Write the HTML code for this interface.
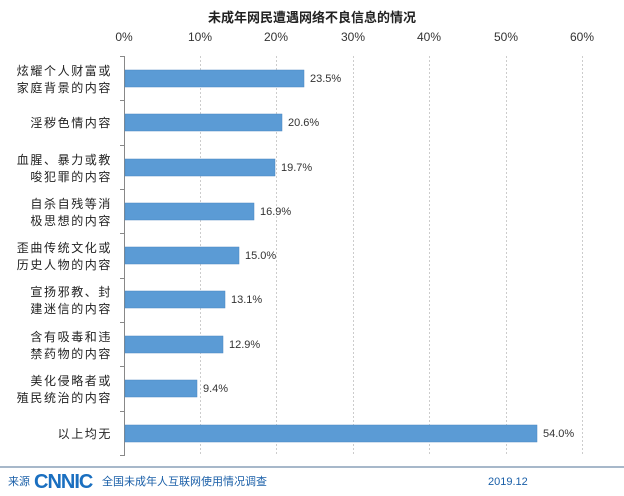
<!DOCTYPE html>
<html><head><meta charset="utf-8"><style>
body{margin:0;background:#fff;}
svg{display:block;font-family:"Liberation Sans","Noto Sans CJK SC",sans-serif;}
</style></head><body>
<svg width="624" height="496" viewBox="0 0 624 496" xmlns="http://www.w3.org/2000/svg">
<rect width="624" height="496" fill="#fff"/>
<text x="312" y="22" text-anchor="middle" font-size="13" font-weight="bold" fill="#222">未成年网民遭遇网络不良信息的情况</text>
<g font-size="12" fill="#333" text-anchor="middle">
<text x="124" y="41">0%</text><text x="200" y="41">10%</text><text x="276" y="41">20%</text><text x="353" y="41">30%</text><text x="429" y="41">40%</text><text x="506" y="41">50%</text><text x="582" y="41">60%</text>
</g>
<g stroke="#ccc" stroke-dasharray="2,2" stroke-width="1">
<line x1="200.5" y1="56" x2="200.5" y2="455"/><line x1="276.5" y1="56" x2="276.5" y2="455"/><line x1="353.5" y1="56" x2="353.5" y2="455"/><line x1="429.5" y1="56" x2="429.5" y2="455"/><line x1="506.5" y1="56" x2="506.5" y2="455"/><line x1="582.5" y1="56" x2="582.5" y2="455"/>
</g>
<g stroke="#888" stroke-width="1">
<line x1="124.5" y1="56" x2="124.5" y2="455"/>
<line x1="120" y1="56.5" x2="125" y2="56.5"/><line x1="120" y1="100.5" x2="125" y2="100.5"/><line x1="120" y1="145.5" x2="125" y2="145.5"/><line x1="120" y1="189.5" x2="125" y2="189.5"/><line x1="120" y1="233.5" x2="125" y2="233.5"/><line x1="120" y1="278.5" x2="125" y2="278.5"/><line x1="120" y1="322.5" x2="125" y2="322.5"/><line x1="120" y1="366.5" x2="125" y2="366.5"/><line x1="120" y1="411.5" x2="125" y2="411.5"/><line x1="120" y1="455.5" x2="125" y2="455.5"/>
</g>
<g fill="#5b9bd5" stroke="#4a86c0" stroke-width="0.5">
<rect x="125" y="70" width="179" height="17"/>
<rect x="125" y="114" width="157" height="17"/>
<rect x="125" y="159" width="150" height="17"/>
<rect x="125" y="203" width="129" height="17"/>
<rect x="125" y="247" width="114" height="17"/>
<rect x="125" y="291" width="100" height="17"/>
<rect x="125" y="336" width="98" height="17"/>
<rect x="125" y="380" width="72" height="17"/>
<rect x="125" y="425" width="412" height="17"/>
</g>
<g font-size="11" fill="#333">
<text x="310" y="82">23.5%</text><text x="288" y="126">20.6%</text><text x="281" y="171">19.7%</text><text x="260" y="215">16.9%</text><text x="245" y="259">15.0%</text><text x="231" y="303">13.1%</text><text x="229" y="348">12.9%</text><text x="203" y="392">9.4%</text><text x="543" y="437">54.0%</text>
</g>
<g font-size="12" fill="#222" text-anchor="end" letter-spacing="1.6">
<text x="112" y="75">炫耀个人财富或</text><text x="112" y="92">家庭背景的内容</text>
<text x="112" y="127">淫秽色情内容</text>
<text x="112" y="164">血腥、暴力或教</text><text x="112" y="181">唆犯罪的内容</text>
<text x="112" y="208">自杀自残等消</text><text x="112" y="225">极思想的内容</text>
<text x="112" y="252">歪曲传统文化或</text><text x="112" y="269">历史人物的内容</text>
<text x="112" y="296">宣扬邪教、封</text><text x="112" y="313">建迷信的内容</text>
<text x="112" y="341">含有吸毒和违</text><text x="112" y="358">禁药物的内容</text>
<text x="112" y="385">美化侵略者或</text><text x="112" y="402">殖民统治的内容</text>
<text x="112" y="438">以上均无</text>
</g>
<line x1="0" y1="467" x2="624" y2="467" stroke="#8aa0b8" stroke-width="1.5"/>
<text x="8" y="485" font-size="11" fill="#1a5fa8">来源</text>
<text x="34" y="488" font-size="20" font-weight="bold" fill="#1a6fc0" letter-spacing="-1">CNNIC</text>
<text x="102" y="485" font-size="11" fill="#1a5fa8">全国未成年人互联网使用情况调查</text>
<text x="488" y="485" font-size="11" fill="#1a5fa8">2019.12</text>
</svg>
</body></html>
